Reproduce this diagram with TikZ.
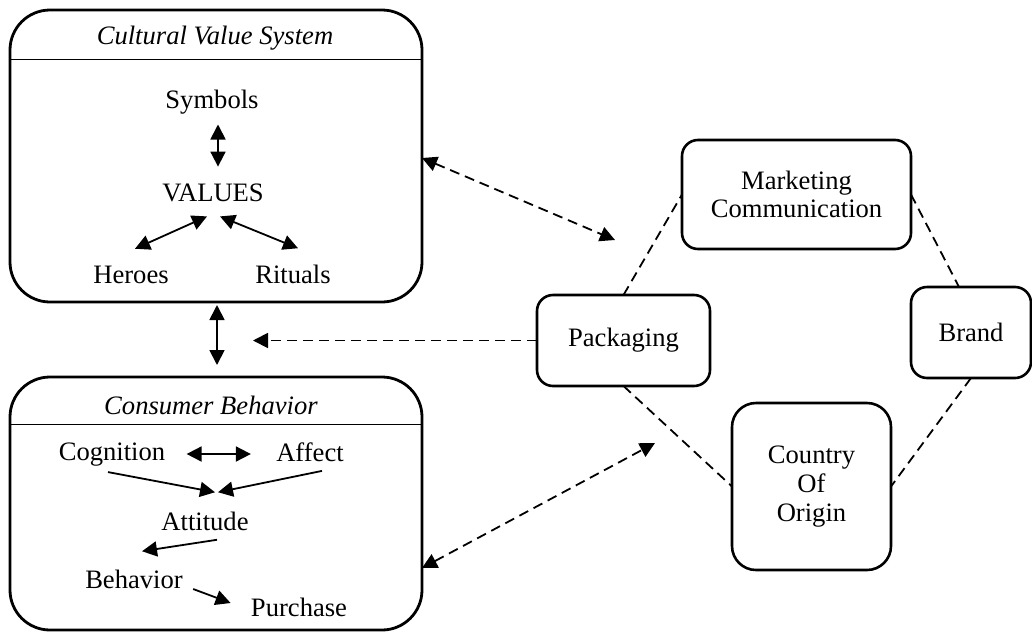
\documentclass[tikz,border=0pt]{standalone}
\usepackage{fontspec}
\setmainfont{Liberation Serif}
\usetikzlibrary{arrows.meta}
\tikzset{
    groupBox/.style={rectangle, rounded corners=20pt, draw=black, line width=1.4pt, minimum width=206pt, inner sep=0pt, outer sep=0pt},
    titleText/.style={font=\fontsize{13.3}{15}\selectfont\itshape, inner sep=0pt},
    itemText/.style={font=\fontsize{13.3}{15}\selectfont, inner sep=0pt},
    itemBox/.style={rectangle, rounded corners=8pt, draw=black, line width=1.3pt, align=center, inner sep=0pt, outer sep=0pt, font=\fontsize{13.3}{14.3}\selectfont},
    arrow/.style={line width=0.9pt, -{Triangle[length=7.5pt, width=7.5pt]}},
    biArrow/.style={line width=0.9pt, {Triangle[length=7.5pt, width=7.5pt]}-{Triangle[length=7.5pt, width=7.5pt]}},
    dashArrow/.style={arrow, dash pattern=on 5pt off 3pt},
    dashBiArrow/.style={biArrow, dash pattern=on 5pt off 3pt},
    dashLink/.style={line width=0.9pt, dash pattern=on 5pt off 3pt}
}

\begin{document}
\begin{tikzpicture}[x=0.5pt, y=-0.5pt]
  \useasboundingbox (0,0) rectangle (1032,632);

  % cultural value system
  \node (cvs) [groupBox, minimum height=146pt] at (216,156) {};
  \node (cvsTitle) [titleText] at (215,38) {Cultural Value System};
  \coordinate (cvsRule) at (0,59);
  \draw[line width=0.5pt] (cvs.west |- cvsRule) -- (cvs.east |- cvsRule);

  \node (sym) [itemText] at (212,102) {Symbols};
  \node (val) [itemText] at (213,193) {VALUES};
  \node (hero) [itemText] at (131,275) {Heroes};
  \node (rit) [itemText] at (293,274) {Rituals};

  \draw[biArrow] ([xshift=3pt, yshift=-5pt]sym.south) -- ([xshift=2.5pt, yshift=8.5pt]val.north);
  \draw[biArrow] ([xshift=-3pt, yshift=-7pt]val.south) -- ([xshift=2pt, yshift=8.5pt]hero.north);
  \draw[biArrow] ([xshift=3.5pt, yshift=-7pt]val.south) -- ([xshift=2.5pt, yshift=8pt]rit.north);

  % consumer behavior
  \node (cb) [groupBox, minimum height=126.5pt] at (216,503.5) {};
  \node (cbTitle) [titleText] at (211,405) {Consumer Behavior};
  \coordinate (cbRule) at (0,424);
  \draw[line width=0.5pt] (cb.west |- cbRule) -- (cb.east |- cbRule);

  \node (cog) [itemText] at (112,455) {Cognition};
  \node (aff) [itemText] at (310,452) {Affect};
  \node (att) [itemText] at (205,521) {Attitude};
  \node (beh) [itemText] at (134,579) {Behavior};
  \node (pur) [itemText] at (299,607) {Purchase};

  \draw[biArrow] ([xshift=10.5pt, yshift=0.5pt]cog.east) -- ([xshift=-12.5pt, yshift=-1pt]aff.west);
  \draw[arrow] ([xshift=-2pt, yshift=-2.5pt]cog.south) -- ([xshift=5pt, yshift=9.5pt]att.north);
  \draw[arrow] ([xshift=6pt, yshift=-4.5pt]aff.south) -- ([xshift=6.5pt, yshift=9.5pt]att.north);
  \draw[arrow] ([xshift=6pt, yshift=-4.5pt]att.south) -- ([xshift=4pt, yshift=9pt]beh.north);
  \draw[arrow] ([xshift=5pt, yshift=-5pt]beh.east) -- ([xshift=-10pt, yshift=2pt]pur.west);

  \draw[biArrow] ([xshift=0.5pt, yshift=-1.5pt]cvs.south) -- ([xshift=0.5pt, yshift=6pt]cb.north);

  % marketing elements
  \node (pack) [itemBox, minimum width=86.5pt, minimum height=45.5pt] at (623.5,340.5) {Packaging};
  \node (mc) [itemBox, minimum width=114.5pt, minimum height=54.5pt] at (796.5,194.5) {Marketing\\Communication};
  \node (brand) [itemBox, minimum width=60pt, minimum height=45.5pt] at (971,332.5) {Brand};
  \node (coo) [itemBox, rounded corners=12pt, minimum width=79.5pt, minimum height=83.5pt] at (811.5,486.5) {Country\\Of\\Origin};

  \draw[dashLink] (pack.north) -- (mc.west);
  \draw[dashLink] (mc.east) -- ([xshift=-6pt]brand.north);
  \draw[dashLink] (brand.south) -- (coo.east);
  \draw[dashLink] (pack.south) -- (coo.west);

  % links to the left column
  \coordinate (packIn) at (253,340.5);
  \coordinate (cvsLink) at (615,240);
  \coordinate (cbLink) at (655,443);
  \draw[dashArrow] (pack.west) -- (packIn);
  \draw[dashBiArrow] ([yshift=-1pt]cvs.east) -- (cvsLink);
  \draw[dashBiArrow] ([yshift=-32.25pt]cb.east) -- (cbLink);
\end{tikzpicture}
\end{document}
